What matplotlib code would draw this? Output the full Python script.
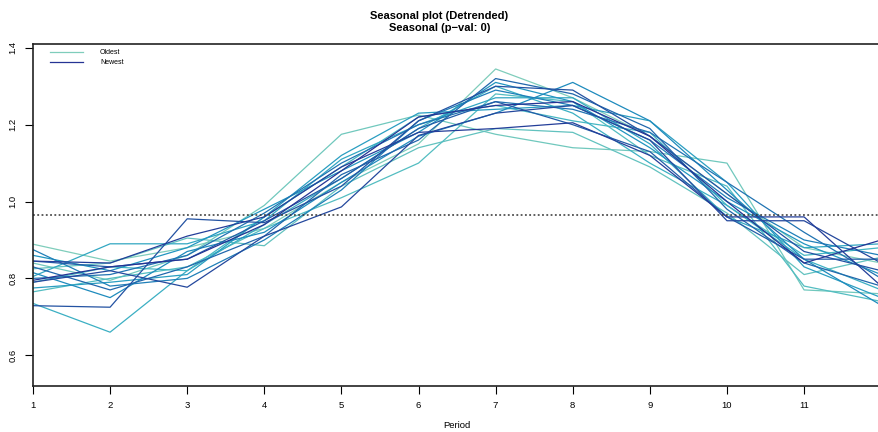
#!/usr/bin/env python3
"""Seasonal plot (detrended): one line per year, coloured oldest -> newest."""

import matplotlib
matplotlib.use("Agg")
import matplotlib.pyplot as plt
from matplotlib.colors import LinearSegmentedColormap

plt.rcParams["font.family"] = ["Liberation Sans", "DejaVu Sans"]

periods = list(range(1, 13))

# detrended seasonal values per year, oldest first
years = [
    [0.889, 0.845, 0.880, 0.930, 1.050, 1.150, 1.345, 1.270, 1.170, 1.020, 0.880, 0.840],
    [0.840, 0.795, 0.860, 0.990, 1.175, 1.225, 1.175, 1.140, 1.130, 1.100, 0.770, 0.760],
    [0.825, 0.840, 0.905, 0.885, 1.040, 1.140, 1.190, 1.180, 1.090, 0.970, 0.810, 0.855],
    [0.765, 0.800, 0.830, 0.930, 1.010, 1.100, 1.280, 1.260, 1.120, 1.040, 0.780, 0.740],
    [0.790, 0.830, 0.820, 0.960, 1.090, 1.220, 1.250, 1.210, 1.180, 0.990, 0.860, 0.880],
    [0.735, 0.660, 0.820, 0.940, 1.060, 1.190, 1.300, 1.230, 1.100, 0.990, 0.850, 0.770],
    [0.805, 0.890, 0.890, 0.950, 1.110, 1.200, 1.270, 1.270, 1.150, 0.960, 0.880, 0.890],
    [0.775, 0.790, 0.810, 0.960, 1.120, 1.230, 1.240, 1.250, 1.210, 1.050, 0.830, 0.750],
    [0.860, 0.820, 0.880, 0.980, 1.080, 1.180, 1.310, 1.260, 1.140, 1.000, 0.890, 0.810],
    [0.815, 0.750, 0.870, 0.920, 1.050, 1.170, 1.230, 1.310, 1.210, 1.030, 0.850, 0.730],
    [0.875, 0.780, 0.800, 0.900, 1.030, 1.210, 1.290, 1.250, 1.160, 1.010, 0.900, 0.860],
    [0.800, 0.810, 0.860, 0.970, 1.100, 1.200, 1.260, 1.240, 1.180, 1.050, 0.920, 0.800],
    [0.830, 0.770, 0.830, 0.910, 1.070, 1.160, 1.320, 1.280, 1.190, 0.980, 0.840, 0.780],
    [0.845, 0.830, 0.850, 0.950, 1.060, 1.190, 1.260, 1.200, 1.130, 0.960, 0.850, 0.850],
    [0.729, 0.725, 0.955, 0.945, 1.040, 1.210, 1.300, 1.290, 1.170, 1.020, 0.870, 0.820],
    [0.790, 0.820, 0.777, 0.910, 0.986, 1.172, 1.230, 1.250, 1.160, 0.950, 0.950, 0.840],
    [0.845, 0.840, 0.910, 0.960, 1.090, 1.180, 1.190, 1.205, 1.120, 0.960, 0.960, 0.780],
    [0.795, 0.830, 0.850, 0.940, 1.080, 1.220, 1.250, 1.260, 1.170, 1.000, 0.840, 0.900],
]
mean_level = 0.965

x_ticks = list(range(1, 12))
y_ticks = [0.6, 0.8, 1.0, 1.2, 1.4]

cmap = LinearSegmentedColormap.from_list(
    "ylgnbu_part", ["#7fcdbb", "#41b6c4", "#1d91c0", "#225ea8", "#253494"])

fig = plt.figure(figsize=(8.79, 4.32), dpi=100)
ax = fig.add_axes([0.0375, 0.1065, 0.965, 0.7917])

n = len(years)
for i, vals in enumerate(years):
    ax.plot(periods, vals, color=cmap(i / (n - 1)), lw=0.9)

ax.axhline(mean_level, color="#333333", lw=1.1, ls=(0, (1.2, 1.6)))

ax.set_xlim(1, 12)
ax.set_ylim(0.52, 1.41)
ax.set_xticks(x_ticks)
ax.set_yticks(y_ticks)
ax.set_yticklabels([f"{v:.1f}" for v in y_ticks], rotation=90, va="center")
ax.tick_params(labelsize=6.8, length=6, width=0.8, direction="out", pad=5)
for side in ("left", "top", "bottom"):
    ax.spines[side].set_linewidth(1.2)
    ax.spines[side].set_color("#222222")
ax.spines["right"].set_visible(False)

ax.set_xlabel("Period", fontsize=6.8, labelpad=8)
fig.suptitle("Seasonal plot (Detrended)\nSeasonal (p\u2212val: 0)",
             fontsize=8, fontweight="bold", y=0.975, linespacing=1.25)

ax.plot([], [], color=cmap(0.0), lw=0.9, label="Oldest")
ax.plot([], [], color=cmap(1.0), lw=0.9, label="Newest")
ax.legend(loc="upper left", bbox_to_anchor=(0.02, 0.985), frameon=False,
          fontsize=5, handlelength=4.8, handletextpad=2.4, labelspacing=0.45,
          borderaxespad=0, borderpad=0)

plt.savefig("out.png", dpi=100)
